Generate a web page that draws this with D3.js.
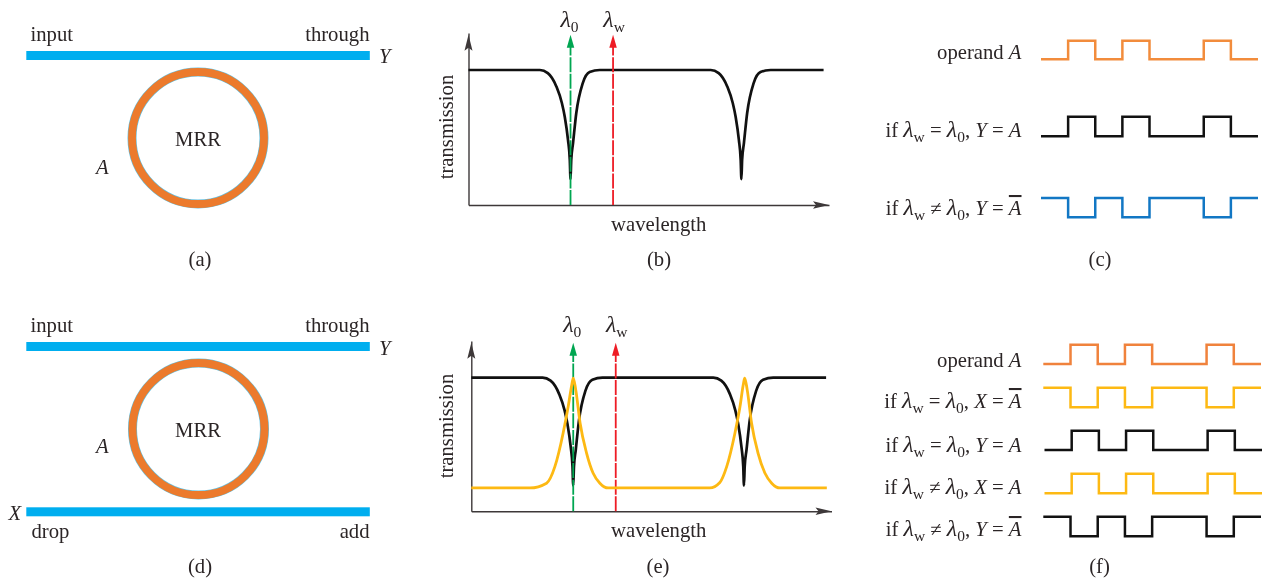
<!DOCTYPE html>
<html>
<head>
<meta charset="utf-8">
<script src="https://cdnjs.cloudflare.com/ajax/libs/d3/7.8.5/d3.min.js"></script>
<style>
  html, body { margin: 0; padding: 0; background: #fff; overflow: hidden; }
  svg { filter: blur(0.35px); }
  text { font-family: "Liberation Serif", serif; font-size: 20.7px; fill: #2b2526; white-space: pre; }
</style>
</head>
<body>
<div id="chart"></div>
<script>
const throughWave = [0, 19.8, 22, 24.4, 25.9, 26.7, 27.6, 28.1, 28.3, 28.5, 29, 29.9, 31.7, 33.6, 36.4,
  67.2, 69.4, 71.8, 73.3, 74.1, 75, 75.5, 75.7, 75.9, 76.4, 77.3, 79.1, 81, 83.8, 98.5];
const throughPower = [0.785, 0.785, 0.767, 0.688, 0.593, 0.513, 0.378, 0.262, 0.151, 0.262, 0.36, 0.535, 0.709, 0.773, 0.785,
  0.785, 0.767, 0.688, 0.593, 0.513, 0.378, 0.262, 0.151, 0.262, 0.36, 0.535, 0.709, 0.773, 0.785, 0.785];

// transmission spectrum at the drop port (panel e)
const dropWave = [0, 16.3, 20.9, 23.2, 25.5, 26.9, 27.9, 28.3, 29, 30.2, 32, 33.8, 35.7, 38,
  66.2, 69, 70.9, 73.2, 74.6, 75.5, 75.9, 76.6, 77.8, 79.6, 81.5, 83.4, 85.7, 98.7];
const dropPower = [0.137, 0.137, 0.165, 0.262, 0.46, 0.615, 0.743, 0.782, 0.713, 0.519, 0.342, 0.225, 0.165, 0.137,
  0.137, 0.169, 0.262, 0.46, 0.615, 0.743, 0.782, 0.713, 0.519, 0.342, 0.225, 0.165, 0.137, 0.137];

const lambda0 = 28.3;
const lambdaW = 40.1;

// logic levels, one per bit
const operandA = [0, 1, 0, 1, 0, 0, 1, 0];
const operandNotA = [1, 0, 1, 0, 1, 1, 0, 1];

const BLUE = "#00aeef", ORANGE = "#ec7a2c", BLACK = "#111111", YELLOW = "#fdb913",
  LINEBLUE = "#1277c4", GREEN = "#00a651", RED = "#ee1c25", AXIS = "#3d3839";

const svg = d3.select("#chart").append("svg")
  .attr("width", 1263)
  .attr("height", 580);

// plain label; parts like "i:A" are italic, "l:λ" a large italic lambda,
// "sub:w" subscript, "bar:A" italic with overbar
function label(x, y, parts, anchor) {
  const t = svg.append("text")
    .attr("x", x)
    .attr("y", y)
    .attr("text-anchor", anchor || "start");
  let lowered = false;
  [].concat(parts).forEach(p => {
    const idx = p.indexOf(":");
    const kind = idx > 0 ? p.slice(0, idx) : "";
    const str = idx > 0 ? p.slice(idx + 1) : p;
    const span = t.append("tspan").text(str);
    if (kind === "i" || kind === "bar" || kind === "l") span.attr("font-style", "italic");
    if (kind === "l") span.style("font-size", "24px");
    if (kind === "bar") span.style("text-decoration", "overline");
    if (kind === "sub") {
      span.attr("dy", 5).style("font-size", "15.5px");
      lowered = true;
    } else if (lowered) {
      span.attr("dy", -5);
      lowered = false;
    }
  });
  return t;
}

// ring resonator schematic with its bus waveguides
function drawRing(cx, cy, busYs) {
  busYs.forEach(by => {
    svg.append("rect")
      .attr("x", 26.3)
      .attr("y", by)
      .attr("width", 343.5)
      .attr("height", 9)
      .attr("fill", BLUE);
  });
  svg.append("circle").attr("cx", cx).attr("cy", cy).attr("r", 66)
    .attr("fill", "none").attr("stroke", "#62c0e2").attr("stroke-width", 9);
  svg.append("circle").attr("cx", cx).attr("cy", cy).attr("r", 66)
    .attr("fill", "none").attr("stroke", ORANGE).attr("stroke-width", 7.8);
}

function arrowHead(x, y, angle, len, wid, color, notch) {
  svg.append("path")
    .attr("d", d3.line()([[0, 0], [-wid / 2, len], [0, len - notch], [wid / 2, len]]) + "Z")
    .attr("transform", `translate(${x},${y}) rotate(${angle})`)
    .attr("fill", color);
}

// spectrum panel, drawn from the arrays through d3 scales and axes
function drawSpectrum(left, right, base, top, withDrop) {
  const x = d3.scaleLinear().domain([0, 100]).range([left, right]);
  const y = d3.scaleLinear().domain([0, 1]).range([base, top]);

  svg.append("g").attr("transform", `translate(0,${base})`)
    .call(d3.axisBottom(x).tickValues([]).tickSize(0))
    .select(".domain").attr("stroke", AXIS).attr("stroke-width", 1.4);
  svg.append("g").attr("transform", `translate(${left},0)`)
    .call(d3.axisLeft(y.copy().domain([0, 0.96])).tickValues([]).tickSize(0))
    .select(".domain").attr("stroke", AXIS).attr("stroke-width", 1.4);
  arrowHead(right, base, 90, 16, 7.5, AXIS, 3);
  arrowHead(left, y(0.99), 0, 16, 8, AXIS, 3);

  const line = d3.line()
    .x(d => x(d[0]))
    .y(d => y(d[1]))
    .curve(d3.curveMonotoneX);

  svg.append("path")
    .attr("d", line(d3.zip(throughWave, throughPower)))
    .attr("fill", "none")
    .attr("stroke", BLACK)
    .attr("stroke-width", 2.7);

  [[lambda0, GREEN], [lambdaW, RED]].forEach(([w, color]) => {
    svg.append("line")
      .attr("x1", x(w)).attr("x2", x(w))
      .attr("y1", y(0)).attr("y2", y(0.93))
      .attr("stroke", color)
      .attr("stroke-width", 1.8)
      .attr("stroke-dasharray", "15 1.6");
    arrowHead(x(w), y(0.99), 0, 13, 7.5, color, 0);
  });

  if (withDrop) {
    svg.append("path")
      .attr("d", line(d3.zip(dropWave, dropPower)))
      .attr("fill", "none")
      .attr("stroke", YELLOW)
      .attr("stroke-width", 2.8);
  }
  return x;
}

// one pulse train
function drawPulses(bits, x0, x1, low, high, color) {
  const x = d3.scaleLinear().domain([0, bits.length]).range([x0, x1]);
  const y = d3.scaleLinear().domain([0, 1]).range([low, high]);
  const line = d3.line()
    .x((d, i) => x(i))
    .y(d => y(d))
    .curve(d3.curveStepAfter);
  svg.append("path")
    .attr("d", line(bits.concat(bits[bits.length - 1])))
    .attr("fill", "none")
    .attr("stroke", color)
    .attr("stroke-width", 2.5);
}

// (a)
drawRing(198, 138, [51]);
label(30.5, 40.5, "input");
label(369.5, 40.5, "through", "end");
label(379, 63, "i:Y");
label(96, 174, "i:A");
label(198, 146, "MRR", "middle");
label(200, 266, "(a)", "middle");

// (d)
drawRing(198.5, 429, [342, 507.3]);
label(30.5, 332, "input");
label(369.5, 332, "through", "end");
label(379, 355, "i:Y");
label(96, 453, "i:A");
label(198, 437, "MRR", "middle");
label(8.5, 520, "i:X");
label(31.5, 538, "drop");
label(369.5, 538, "add", "end");
label(200, 573, "(d)", "middle");

// (b)
const xb = drawSpectrum(468.5, 829, 205, 33, false);
label(xb(lambda0) - 1, 27, ["l:λ", "sub:0"], "middle");
label(xb(lambdaW) + 1, 27, ["l:λ", "sub:w"], "middle");
label(658.7, 231, "wavelength", "middle");
label(0, 0, "transmission", "middle").attr("transform", "translate(453,127) rotate(-90)");
label(659, 266, "(b)", "middle");

// (e)
const xe = drawSpectrum(471.3, 831.5, 511.3, 341, true);
label(xe(lambda0) - 1, 332, ["l:λ", "sub:0"], "middle");
label(xe(lambdaW) + 1, 332, ["l:λ", "sub:w"], "middle");
label(658.7, 537, "wavelength", "middle");
label(0, 0, "transmission", "middle").attr("transform", "translate(453,426) rotate(-90)");
label(658, 573, "(e)", "middle");

// (c)
drawPulses(operandA, 1041, 1258, 59.3, 40.7, "#f28c3c");
drawPulses(operandA, 1041, 1258, 136.3, 116.7, BLACK);
drawPulses(operandNotA, 1041, 1258, 217.3, 198, LINEBLUE);
label(1021.5, 59, ["operand ", "i:A"], "end");
label(1021.5, 137, ["if ", "l:λ", "sub:w", " = ", "l:λ", "sub:0", ", ", "i:Y", " = ", "i:A"], "end");
label(1021.5, 215, ["if ", "l:λ", "sub:w", " ≠ ", "l:λ", "sub:0", ", ", "i:Y", " = ", "bar:A"], "end");
label(1100, 266, "(c)", "middle");

// (f)
drawPulses(operandA, 1043.3, 1261, 364, 344.7, "#f0823c");
drawPulses(operandNotA, 1043.3, 1261, 407.3, 387.7, YELLOW);
drawPulses(operandA, 1044.5, 1262, 450, 430.7, BLACK);
drawPulses(operandA, 1044.5, 1262, 493.3, 473.7, YELLOW);
drawPulses(operandNotA, 1043.3, 1261, 536.3, 516.7, BLACK);
label(1021.5, 367, ["operand ", "i:A"], "end");
label(1021.5, 408, ["if ", "l:λ", "sub:w", " = ", "l:λ", "sub:0", ", ", "i:X", " = ", "bar:A"], "end");
label(1021.5, 451.5, ["if ", "l:λ", "sub:w", " = ", "l:λ", "sub:0", ", ", "i:Y", " = ", "i:A"], "end");
label(1021.5, 493.5, ["if ", "l:λ", "sub:w", " ≠ ", "l:λ", "sub:0", ", ", "i:X", " = ", "i:A"], "end");
label(1021.5, 536, ["if ", "l:λ", "sub:w", " ≠ ", "l:λ", "sub:0", ", ", "i:Y", " = ", "bar:A"], "end");
label(1099.5, 573, "(f)", "middle");
</script>
</body>
</html>
